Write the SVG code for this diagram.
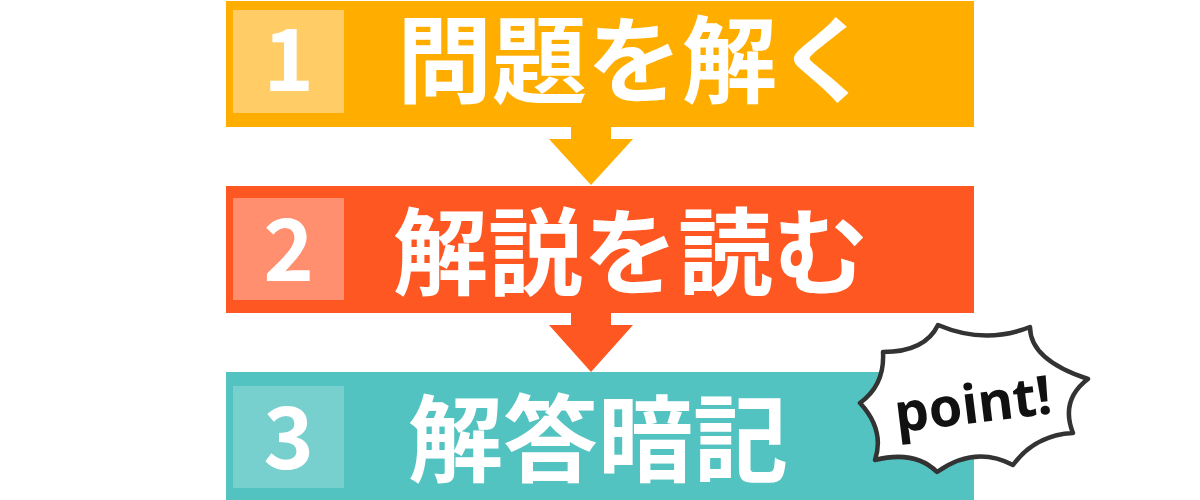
<svg xmlns="http://www.w3.org/2000/svg" width="1200" height="500" viewBox="0 0 1200 500">
<style>
.num{font-family:"Noto Sans CJK JP","Noto Sans",sans-serif;font-weight:700;font-size:86px;fill:#fff;text-anchor:middle}
.lbl{font-family:"Noto Sans CJK JP","Noto Sans",sans-serif;font-weight:700;font-size:95px;fill:#fff}
.pt{font-family:"Noto Sans","Noto Sans CJK JP",sans-serif;font-weight:700;font-size:54px;fill:#111;text-anchor:middle}
</style>
<rect width="1200" height="500" fill="#fff"/>
<g id="step1">
<rect x="226" y="1" width="748" height="126" fill="#FFAE00"/>
<rect x="233" y="10" width="111" height="103" fill="#FFCC66"/>
<text class="num" x="288.5" y="91">1</text>
<text class="lbl" x="397" y="96">問題を解く</text>
</g>
<g id="step2">
<rect x="226" y="186" width="748" height="127" fill="#FF5722"/>
<rect x="233" y="198" width="111" height="102" fill="#FF8F6E"/>
<text class="num" x="288.5" y="281">2</text>
<text class="lbl" x="393" y="288">解説を読む</text>
</g>
<g id="step3">
<rect x="226" y="372" width="748" height="128" fill="#52C3C1"/>
<rect x="233" y="386" width="111" height="102" fill="#77D0CE"/>
<text class="num" x="288.5" y="469">3</text>
<text class="lbl" x="408" y="475">解答暗記</text>
</g>
<g id="connectors">
<path d="M571 127H611V139H633L591 185L549 139H571Z" fill="#FFAE00"/>
<path d="M571 313H611V325H633L591 372L549 325H571Z" fill="#FF5722"/>
</g>
<g id="point">
<path d="M938 325Q985 345 1030 327Q1030 360 1088 379Q1060 400 1073 433Q1035 435 1013 465Q975 445 937 472Q915 450 875 460Q885 430 860 403Q885 385 883 352Q925 352 938 325Z" fill="#fff" stroke="#333" stroke-width="4.5" stroke-linejoin="round"/>
<text class="pt" x="973" y="423" transform="rotate(-7 973 405)">point!</text>
</g>
</svg>
